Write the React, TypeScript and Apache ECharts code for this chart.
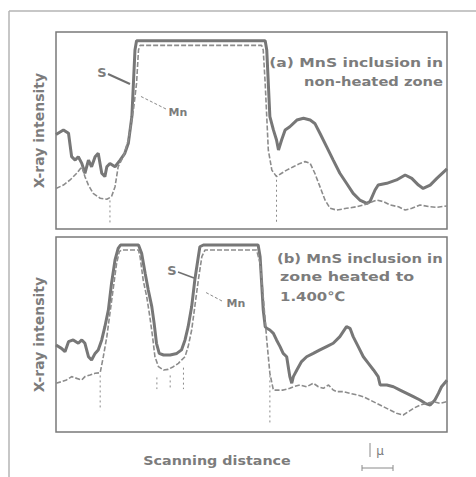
import React, { useEffect, useRef } from "react";
import * as echarts from "echarts";

// Scanning distance (0–100, arbitrary units) vs X-ray intensity (0–100, relative)
const sTop: number[][] = [
  [0, 48], [1.9, 50.3], [3.2, 48.6], [4.0, 36.7], [4.9, 35.0], [5.7, 36.7], [6.6, 33.3],
  [7.4, 28.3], [8.3, 35.0], [9.1, 31.6], [10.0, 36.7], [10.8, 38.4], [11.7, 28.3],
  [12.5, 26.6], [13.0, 31.6], [13.8, 33.3], [15.1, 31.6], [16.4, 35.0], [17.6, 38.4],
  [18.5, 43.5], [19.4, 57.0], [19.8, 73.9], [20.2, 90.9], [20.6, 95.5], [53.5, 95.5],
  [53.9, 90.9], [54.3, 73.9], [54.7, 57.0], [55.6, 50.3], [56.4, 45.2], [56.9, 40.1],
  [57.7, 45.2], [58.6, 50.3], [59.8, 51.9], [61.6, 55.3], [63.3, 56.2], [65.0, 55.3],
  [66.2, 53.6], [67.5, 48.6], [69.2, 41.8], [70.9, 35.0], [72.6, 28.3], [74.3, 23.2],
  [76.0, 18.1], [77.7, 14.7], [79.5, 13.0], [80.3, 13.9], [81.6, 19.8], [82.4, 22.3],
  [84.6, 23.2], [87.1, 24.9], [89.3, 27.4], [91.0, 25.7], [92.7, 22.3], [93.9, 20.6],
  [95.7, 22.3], [97.4, 25.7], [100, 30.5],
];

const mnTop: number[][] = [
  [0, 20.6], [1.9, 22.3], [3.6, 24.9], [5.3, 28.3], [6.6, 31.6], [7.4, 26.6], [8.3, 22.3],
  [9.5, 18.1], [11.3, 15.6], [13.0, 15.1], [14.2, 16.4], [15.1, 21.5], [15.9, 31.6],
  [17.2, 36.7], [18.5, 45.2], [19.8, 60.4], [20.6, 73.9], [21.1, 90.9], [21.5, 93.2],
  [52.6, 93.2], [53.0, 90.9], [53.5, 73.9], [53.9, 57.0], [54.3, 40.1], [55.2, 29.9],
  [56.4, 26.6], [57.7, 28.3], [59.0, 29.9], [60.7, 31.6], [62.4, 33.3], [63.7, 34.2],
  [65.0, 33.3], [66.2, 28.3], [67.5, 21.5], [68.8, 14.7], [70.1, 10.5], [71.8, 9.6],
  [74.3, 10.5], [76.9, 11.3], [79.5, 12.7], [82.0, 14.7], [83.7, 13.9], [85.4, 12.2],
  [87.6, 11.3], [89.3, 9.6], [91.0, 10.5], [93.1, 12.2], [95.7, 11.3], [97.4, 11.0],
  [100, 11.7],
];

const sBottom: number[][] = [
  [0, 44.6], [1.4, 42.9], [2.3, 41.2], [3.2, 46.3], [4.4, 47.2], [5.7, 45.5], [6.6, 47.2],
  [7.4, 45.5], [8.3, 38.6], [9.1, 36.9], [10.0, 40.3], [10.8, 42.1], [11.7, 47.2],
  [12.5, 54.0], [13.4, 62.6], [14.2, 76.2], [15.1, 88.2], [15.9, 94.2], [16.5, 95.9],
  [21.1, 95.9], [21.9, 91.6], [22.8, 81.4], [23.6, 72.8], [24.5, 64.3], [25.1, 55.7],
  [25.7, 45.5], [26.4, 40.3], [27.5, 39.5], [29.2, 39.5], [30.9, 40.3], [32.1, 42.1],
  [33.0, 47.2], [33.8, 54.0], [34.7, 64.3], [35.5, 77.9], [36.4, 89.9], [36.8, 95.0],
  [37.7, 95.9], [51.7, 95.9], [52.2, 89.9], [52.6, 76.2], [53.0, 62.6], [53.5, 54.0],
  [53.9, 53.2], [54.7, 52.3], [55.6, 50.6], [56.4, 47.2], [57.3, 43.8], [58.1, 40.3],
  [59.0, 38.6], [59.4, 33.5], [59.8, 28.4], [60.3, 25.0], [60.7, 28.4], [61.6, 31.8],
  [62.8, 36.1], [64.1, 38.6], [65.8, 40.3], [67.5, 42.1], [69.2, 43.8], [70.9, 45.5],
  [72.6, 48.9], [74.3, 54.0], [75.2, 53.2], [76.0, 48.9], [77.3, 43.8], [78.6, 38.6],
  [79.9, 35.2], [81.2, 31.8], [82.4, 28.4], [82.9, 24.1], [84.6, 24.1], [86.3, 23.2],
  [88.0, 21.5], [89.7, 19.8], [91.4, 18.1], [93.1, 16.4], [94.4, 14.7], [95.7, 13.8],
  [96.9, 16.4], [97.8, 19.8], [98.6, 23.2], [100, 26.5],
];

const mnBottom: number[][] = [
  [0, 25.0], [1.4, 25.8], [2.7, 26.7], [4.0, 28.4], [5.3, 27.5], [6.6, 26.7], [7.4, 28.4],
  [8.7, 29.2], [10.0, 30.1], [11.3, 30.4], [12.1, 38.6], [13.0, 48.9], [13.8, 60.9],
  [14.7, 74.5], [15.5, 86.5], [16.2, 92.5], [16.8, 93.3], [21.1, 93.3], [21.5, 89.9],
  [22.3, 77.9], [23.2, 69.4], [24.0, 59.1], [24.7, 48.9], [25.3, 38.6], [26.2, 33.5],
  [27.5, 31.8], [28.7, 32.1], [30.0, 33.5], [31.3, 35.2], [32.1, 36.9], [33.0, 38.6],
  [33.8, 43.8], [34.7, 52.3], [35.5, 64.3], [36.4, 77.9], [37.3, 89.9], [38.1, 93.3],
  [51.3, 93.3], [52.2, 86.5], [53.0, 69.4], [53.9, 47.2], [54.7, 30.1], [55.6, 21.5],
  [58.1, 21.5], [59.8, 22.4], [60.7, 23.2], [62.4, 24.1], [64.1, 23.2], [65.8, 25.0],
  [67.1, 23.2], [68.4, 22.4], [69.7, 24.1], [70.9, 21.5], [71.8, 20.7], [73.5, 20.7],
  [75.2, 19.8], [77.0, 19.0], [78.6, 18.1], [80.3, 16.4], [82.0, 14.7], [83.7, 13.0],
  [85.4, 11.3], [87.1, 9.6], [88.8, 8.7], [90.1, 10.4], [91.4, 12.1], [93.1, 13.8],
  [94.8, 14.7], [96.5, 15.6], [98.2, 14.7], [100, 15.6],
];

// Boundary markers: [x, yFrom, yTo]
const markersTop: number[][] = [
  [13.8, 14.5, 3],
  [56.4, 25, 3],
];
const markersBottom: number[][] = [
  [11.3, 29, 11],
  [25.8, 28, 22],
  [29.2, 29, 22],
  [32.6, 33, 22],
  [54.7, 29, 4],
];

const panelTitles = {
  top: ["(a) MnS inclusion in", "non-heated zone"],
  bottom: ["(b) MnS inclusion in", "zone heated to", "1.400℃"],
};

const INK = "#7c7c7c";
const FONT = "DejaVu Sans";
const CAPTION = `bold 13px "${FONT}"`;

function markerSeries(list: number[][], axis: number) {
  return list.map((m) => ({
    type: "line",
    xAxisIndex: axis,
    yAxisIndex: axis,
    data: [[m[0], m[1]], [m[0], m[2]]],
    symbol: "none",
    silent: true,
    lineStyle: { color: "#8a8a8a", width: 1, type: [2, 3] },
  }));
}

// Wide lettering: text is stretched horizontally about its anchor point
function caption(text: string, x: number, y: number, align: string, stretch = 1.17) {
  return {
    type: "text",
    x,
    y,
    scaleX: stretch,
    style: { text, fill: INK, font: CAPTION, textAlign: align, textVerticalAlign: "middle" },
  };
}

export default function App() {
  const ref = useRef<HTMLDivElement>(null);

  useEffect(() => {
    if (!ref.current) return;
    const chart = echarts.init(ref.current, null, { renderer: "svg" });

    const xAxisBase = {
      type: "value",
      min: 0,
      max: 100,
      axisLine: { show: false },
      axisTick: { show: false },
      axisLabel: { show: false },
      splitLine: { show: false },
    };
    const yAxisBase = {
      type: "value",
      min: 0,
      max: 100,
      axisLine: { show: false },
      axisTick: { show: false },
      axisLabel: { show: false },
      splitLine: { show: false },
      name: "X-ray intensity",
      nameLocation: "middle",
      nameGap: 10,
      nameTextStyle: { color: INK, fontSize: 14, fontWeight: "bold", fontFamily: FONT },
    };

    const sStyle = { color: "#777", width: 3 };
    const mnStyle = { color: "#8c8c8c", width: 1.6, type: [5, 2] };

    chart.setOption({
      animation: false,
      backgroundColor: "#fff",
      grid: [
        { left: 56, top: 32, width: 391, height: 197, show: true, borderColor: "#7a7a7a", borderWidth: 1.5 },
        { left: 56, top: 237, width: 391, height: 195, show: true, borderColor: "#7a7a7a", borderWidth: 1.5 },
      ],
      xAxis: [
        { ...xAxisBase, gridIndex: 0 },
        { ...xAxisBase, gridIndex: 1 },
      ],
      yAxis: [
        { ...yAxisBase, gridIndex: 0 },
        { ...yAxisBase, gridIndex: 1 },
      ],
      series: [
        { name: "S", type: "line", xAxisIndex: 0, yAxisIndex: 0, data: sTop, symbol: "none", lineStyle: sStyle, z: 3 },
        { name: "Mn", type: "line", xAxisIndex: 0, yAxisIndex: 0, data: mnTop, symbol: "none", lineStyle: mnStyle, z: 4 },
        { name: "S", type: "line", xAxisIndex: 1, yAxisIndex: 1, data: sBottom, symbol: "none", lineStyle: sStyle, z: 3 },
        { name: "Mn", type: "line", xAxisIndex: 1, yAxisIndex: 1, data: mnBottom, symbol: "none", lineStyle: mnStyle, z: 4 },
        ...markerSeries(markersTop, 0),
        ...markerSeries(markersBottom, 1),
      ],
      graphic: [
        // outer frame
        { type: "line", shape: { x1: 9, y1: 11, x2: 476, y2: 11 }, style: { stroke: "#b5b5b5", lineWidth: 1.5 } },
        { type: "line", shape: { x1: 9, y1: 11, x2: 9, y2: 477 }, style: { stroke: "#b5b5b5", lineWidth: 1.5 } },
        // panel captions
        caption(panelTitles.top[0], 443, 62, "right", 1.2),
        caption(panelTitles.top[1], 443, 81, "right", 1.13),
        caption(panelTitles.bottom[0], 277, 258, "left", 1.14),
        caption(panelTitles.bottom[1], 280, 277, "left", 1.22),
        caption(panelTitles.bottom[2], 280, 296, "left", 1.15),
        // curve labels, panel (a)
        { type: "text", x: 102, y: 72, style: { text: "S", fill: INK, font: `bold 13px "${FONT}"`, textAlign: "center", textVerticalAlign: "middle" } },
        { type: "line", shape: { x1: 108, y1: 74, x2: 130, y2: 84 }, style: { stroke: "#707070", lineWidth: 2 } },
        { type: "text", x: 178, y: 112, style: { text: "Mn", fill: INK, font: `bold 11px "${FONT}"`, textAlign: "center", textVerticalAlign: "middle" } },
        { type: "line", shape: { x1: 166, y1: 109, x2: 140, y2: 96 }, style: { stroke: "#8a8a8a", lineWidth: 1, lineDash: [3, 2] } },
        // curve labels, panel (b)
        { type: "text", x: 172, y: 270, style: { text: "S", fill: INK, font: `bold 13px "${FONT}"`, textAlign: "center", textVerticalAlign: "middle" } },
        { type: "line", shape: { x1: 178, y1: 272, x2: 194, y2: 278 }, style: { stroke: "#707070", lineWidth: 1.5 } },
        { type: "text", x: 236, y: 303, style: { text: "Mn", fill: INK, font: `bold 11px "${FONT}"`, textAlign: "center", textVerticalAlign: "middle" } },
        { type: "line", shape: { x1: 222, y1: 301, x2: 205, y2: 292 }, style: { stroke: "#8a8a8a", lineWidth: 1, lineDash: [3, 2] } },
        // x-axis title and scale bar
        caption("Scanning distance", 217, 460, "center", 1.1),
        { type: "line", shape: { x1: 370, y1: 443, x2: 370, y2: 457 }, style: { stroke: "#8a8a8a", lineWidth: 1 } },
        { type: "text", x: 380, y: 451, style: { text: "μ", fill: INK, font: `12px "${FONT}"`, textAlign: "center", textVerticalAlign: "middle" } },
        { type: "line", shape: { x1: 362, y1: 468, x2: 393, y2: 468 }, style: { stroke: "#8a8a8a", lineWidth: 1 } },
        { type: "line", shape: { x1: 362, y1: 465, x2: 362, y2: 471 }, style: { stroke: "#8a8a8a", lineWidth: 1 } },
        { type: "line", shape: { x1: 393, y1: 465, x2: 393, y2: 471 }, style: { stroke: "#8a8a8a", lineWidth: 1 } },
      ],
    });

    return () => chart.dispose();
  }, []);

  return (
    <div
      ref={ref}
      style={{ position: "fixed", left: 0, top: 0, width: 476, height: 477 }}
    />
  );
}
